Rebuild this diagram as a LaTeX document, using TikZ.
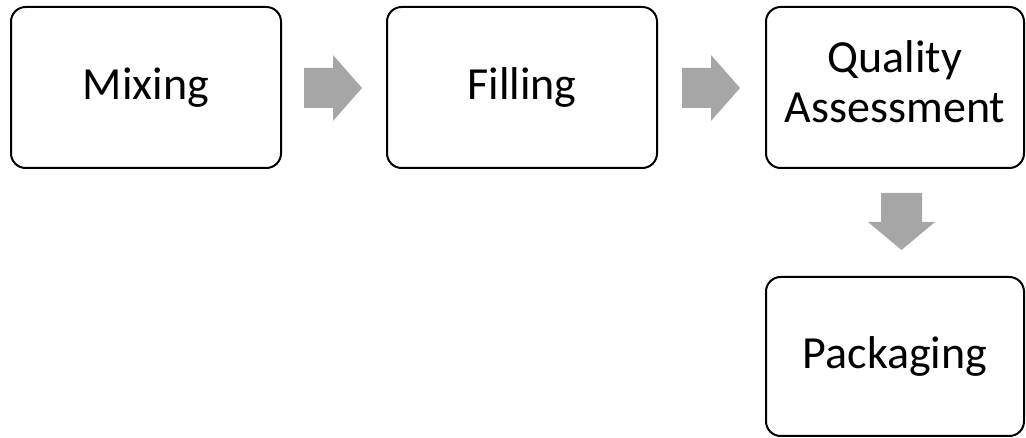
\documentclass[tikz,border=0pt]{standalone}
\usepackage{fontspec}
\setmainfont{Carlito}
\begin{document}
\begin{tikzpicture}[x=0.75pt,y=-0.75pt,
  stepbox/.style={draw=black,line width=1.5pt,rounded corners=11pt,fill=white,
    inner sep=0pt,align=center,font=\fontsize{34.5pt}{38pt}\selectfont},
  blockarrow/.style={fill=black!35,draw=none}]
\useasboundingbox (0,0) rectangle (1026,438);
\node[stepbox,minimum width=202.5pt,minimum height=120.75pt] (mix) at (146,87.5) {Mixing};
\node[stepbox,minimum width=202.5pt,minimum height=120.75pt] (fill) at (522,87.5) {Filling};
\node[stepbox,minimum width=193.5pt,minimum height=120.75pt] (qa) at (895,87.5)
  {\raisebox{-5pt}{\begin{tabular}{@{}c@{}}Quality\\Assessment\end{tabular}}};
\node[stepbox,minimum width=193.5pt,minimum height=119.25pt] (pack) at (895,356.5) {Packaging};
\draw[blockarrow] (304,68) -- (333,68) -- (333,55) -- (362,88) -- (333,121) -- (333,108) -- (304,108) -- cycle;
\draw[blockarrow] (682,68) -- (711,68) -- (711,55) -- (740,88) -- (711,121) -- (711,108) -- (682,108) -- cycle;
\draw[blockarrow] (881,193) -- (922,193) -- (922,222) -- (935,222) -- (901.5,250) -- (868,222) -- (881,222) -- cycle;
\end{tikzpicture}
\end{document}
